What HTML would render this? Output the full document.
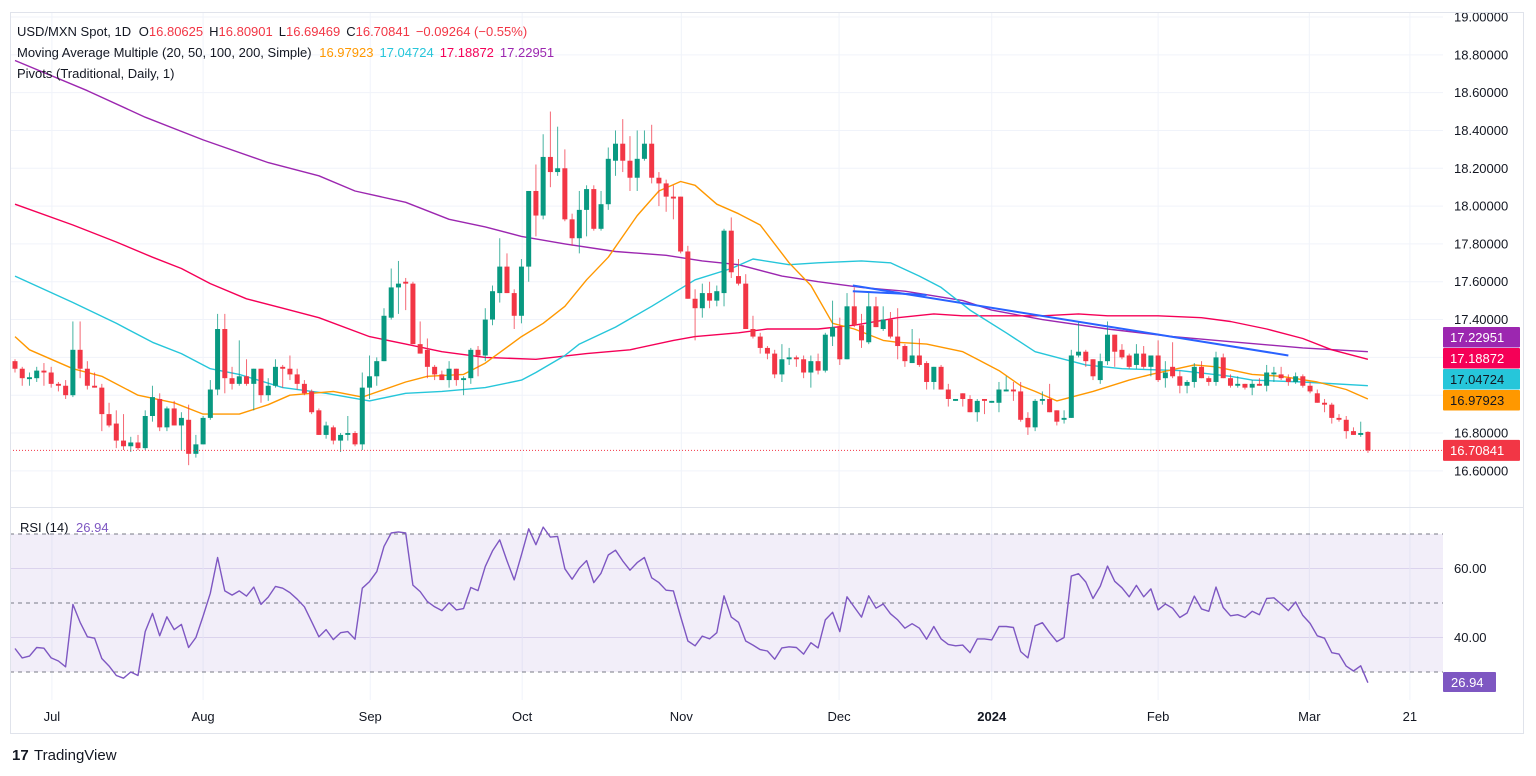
<!DOCTYPE html>
<html><head><meta charset="utf-8"><style>
html,body{margin:0;padding:0;background:#fff;}
svg{display:block;font-family:"Liberation Sans",sans-serif;}
</style></head><body>
<svg id="chart" width="1536" height="776" viewBox="0 0 1536 776" xmlns="http://www.w3.org/2000/svg">
<rect x="0" y="0" width="1536" height="776" fill="#fff"/>
<g id="grid"></g>
<rect x="10" y="534" width="1433" height="138" fill="#7e57c2" fill-opacity="0.1"/>
<g id="ma"></g>
<g id="candles"></g>
<g id="trend"></g>
<g id="rsi"></g>
<g id="axes"></g>
<rect x="10.5" y="12.5" width="1513" height="721" fill="none" stroke="#e0e3eb"/>
<line x1="10" y1="507.5" x2="1523" y2="507.5" stroke="#e0e3eb"/>
<text x="17" y="36" font-size="13" fill="#131722">USD/MXN Spot, 1D <tspan dx="4">O</tspan><tspan fill="#f23645">16.80625</tspan><tspan dx="6">H</tspan><tspan fill="#f23645">16.80901</tspan><tspan dx="6">L</tspan><tspan fill="#f23645">16.69469</tspan><tspan dx="6">C</tspan><tspan fill="#f23645">16.70841</tspan><tspan dx="6" fill="#f23645">−0.09264 (−0.55%)</tspan></text>
<text x="17" y="57" font-size="13" fill="#131722">Moving Average Multiple (20, 50, 100, 200, Simple) <tspan dx="4" fill="#ff9800">16.97923</tspan><tspan dx="6" fill="#26c6da">17.04724</tspan><tspan dx="6" fill="#f50057">17.18872</tspan><tspan dx="6" fill="#9c27b0">17.22951</tspan></text>
<text x="17" y="78" font-size="13" fill="#131722">Pivots (Traditional, Daily, 1)</text>
<text x="20" y="532" font-size="13" fill="#131722">RSI (14) <tspan dx="4" fill="#7e57c2">26.94</tspan></text>
<g>
<text x="12" y="760" font-size="15" font-weight="bold" fill="#131722">17</text>
<text x="34" y="760" font-size="15" fill="#131722">TradingView</text>
</g>
</svg>
<script>
const opens=[17.18,17.14,17.085,17.09,17.13,17.12,17.06,17.05,17.00,17.24,17.14,17.05,17.04,16.90,16.85,16.76,16.73,16.75,16.72,16.89,16.98,16.83,16.93,16.84,16.87,16.69,16.74,16.88,17.03,17.35,17.09,17.06,17.10,17.06,17.14,17.00,17.05,17.15,17.14,17.11,17.06,17.02,16.92,16.79,16.83,16.76,16.79,16.80,16.74,17.04,17.10,17.18,17.41,17.57,17.60,17.59,17.27,17.24,17.15,17.11,17.08,17.14,17.08,17.09,17.24,17.21,17.40,17.54,17.68,17.54,17.42,17.68,18.08,17.95,18.26,18.18,18.20,17.93,17.83,17.98,18.09,17.88,18.01,18.24,18.33,18.24,18.15,18.25,18.33,18.15,18.12,18.05,18.05,17.76,17.51,17.46,17.54,17.50,17.54,17.87,17.63,17.59,17.35,17.31,17.25,17.22,17.11,17.19,17.20,17.19,17.12,17.18,17.13,17.31,17.36,17.19,17.47,17.37,17.28,17.47,17.35,17.40,17.31,17.26,17.17,17.21,17.17,17.07,17.15,17.03,16.97,17.01,16.98,16.91,16.98,16.96,16.96,17.02,17.03,17.02,16.88,16.83,16.97,16.98,16.92,16.87,16.88,17.21,17.23,17.19,17.08,17.18,17.32,17.24,17.21,17.16,17.22,17.15,17.21,17.09,17.15,17.10,17.05,17.07,17.15,17.09,17.07,17.20,17.09,17.05,17.06,17.04,17.06,17.05,17.11,17.11,17.09,17.07,17.10,17.05,17.01,16.96,16.95,16.88,16.87,16.81,16.79,16.806];
const highs=[17.19,17.15,17.12,17.15,17.17,17.15,17.07,17.08,17.39,17.39,17.18,17.12,17.06,16.96,16.92,16.90,16.78,16.79,16.92,17.05,17.01,16.94,16.97,16.91,16.95,16.79,16.89,17.08,17.43,17.43,17.15,17.29,17.19,17.14,17.14,17.09,17.19,17.16,17.21,17.14,17.08,17.03,16.93,16.86,16.84,16.80,16.89,16.81,17.12,17.21,17.20,17.46,17.67,17.71,17.62,17.60,17.39,17.30,17.16,17.13,17.18,17.14,17.10,17.25,17.26,17.46,17.58,17.83,17.75,17.56,17.72,18.08,18.22,18.38,18.50,18.42,18.30,17.96,18.08,18.11,18.11,18.08,18.31,18.40,18.46,18.37,18.40,18.40,18.43,18.18,18.14,18.11,18.05,17.79,17.56,17.59,17.60,17.58,17.88,17.94,17.72,17.64,17.42,17.33,17.26,17.24,17.27,17.25,17.21,17.21,17.21,17.22,17.33,17.50,17.41,17.54,17.57,17.43,17.55,17.52,17.47,17.44,17.46,17.27,17.35,17.30,17.18,17.15,17.16,17.06,16.98,17.01,17.00,16.98,16.98,16.97,17.07,17.10,17.07,17.07,16.91,16.98,17.02,17.06,16.92,16.92,17.24,17.39,17.24,17.19,17.22,17.39,17.32,17.27,17.22,17.27,17.26,17.21,17.29,17.18,17.28,17.13,17.08,17.17,17.18,17.10,17.23,17.22,17.11,17.10,17.06,17.08,17.09,17.16,17.15,17.15,17.11,17.12,17.11,17.07,17.03,16.98,16.96,16.90,16.89,16.83,16.86,16.809];
const lows=[17.12,17.05,17.05,17.07,17.05,17.04,17.02,16.98,16.99,17.09,17.03,17.04,16.81,16.83,16.72,16.71,16.70,16.71,16.71,16.86,16.81,16.81,16.84,16.71,16.63,16.67,16.74,16.87,17.00,17.01,17.03,17.05,17.05,16.92,16.96,16.97,17.04,17.04,17.08,17.03,17.00,16.90,16.79,16.77,16.74,16.70,16.76,16.73,16.71,16.98,17.05,17.18,17.40,17.43,17.45,17.27,17.22,17.09,17.08,17.08,17.04,17.05,17.00,17.06,17.10,17.18,17.37,17.49,17.54,17.35,17.38,17.60,17.84,17.93,18.10,18.16,17.92,17.79,17.75,17.84,17.87,17.87,17.98,18.16,18.18,18.08,18.08,18.24,18.12,18.00,17.97,17.93,17.75,17.51,17.29,17.41,17.46,17.47,17.47,17.62,17.58,17.35,17.30,17.22,17.19,17.09,17.07,17.16,17.15,17.09,17.04,17.11,17.12,17.26,17.16,17.19,17.36,17.25,17.27,17.36,17.34,17.30,17.19,17.15,17.17,17.15,17.03,17.03,17.03,16.94,16.97,16.94,16.91,16.86,16.90,16.96,16.91,17.02,16.97,16.86,16.79,16.81,16.95,16.91,16.84,16.85,16.88,17.20,17.15,17.08,17.06,17.16,17.15,17.19,17.14,17.14,17.14,17.10,17.07,17.04,17.09,17.01,17.01,17.04,17.09,17.05,17.05,17.09,17.04,17.04,17.03,17.00,17.05,17.02,17.07,17.08,17.05,17.06,17.04,17.01,16.96,16.91,16.85,16.86,16.77,16.79,16.78,16.695];
const closes=[17.14,17.09,17.095,17.13,17.12,17.06,17.05,17.00,17.24,17.14,17.05,17.04,16.90,16.84,16.76,16.73,16.75,16.72,16.89,16.99,16.83,16.93,16.84,16.88,16.69,16.74,16.88,17.03,17.35,17.09,17.06,17.10,17.06,17.14,17.00,17.05,17.15,17.14,17.11,17.06,17.01,16.91,16.79,16.84,16.76,16.79,16.80,16.74,17.04,17.10,17.18,17.42,17.57,17.59,17.59,17.27,17.22,17.15,17.11,17.08,17.14,17.08,17.09,17.24,17.21,17.40,17.55,17.68,17.54,17.42,17.68,18.08,17.95,18.26,18.18,18.20,17.93,17.83,17.98,18.09,17.88,18.01,18.25,18.33,18.24,18.15,18.25,18.33,18.15,18.12,18.05,18.04,17.76,17.51,17.46,17.54,17.50,17.55,17.87,17.65,17.59,17.35,17.31,17.25,17.22,17.11,17.19,17.20,17.19,17.12,17.18,17.13,17.32,17.36,17.19,17.47,17.37,17.29,17.47,17.36,17.40,17.31,17.26,17.18,17.21,17.16,17.07,17.15,17.03,16.98,16.98,16.98,16.91,16.97,16.97,16.97,17.03,17.03,17.02,16.87,16.83,16.97,16.98,16.91,16.86,16.88,17.21,17.23,17.18,17.10,17.18,17.32,17.23,17.20,17.15,17.22,17.15,17.21,17.08,17.12,17.10,17.05,17.07,17.15,17.09,17.07,17.20,17.09,17.05,17.06,17.04,17.06,17.05,17.12,17.12,17.09,17.07,17.10,17.05,17.02,16.96,16.95,16.88,16.87,16.81,16.79,16.80,16.708];
const ma20Idx=[0,2,8,12,17,22,26,31,35,38,44,48,54,57,62,65,70,73,76,79,82,86,89,92,94,97,100,103,107,110,113,116,120,122,126,131,133,136,139,141,144,149,154,157,163,166,171,175,180,184,187];
const ma20Val=[17.31,17.24,17.14,17.10,17.00,16.96,16.90,16.90,16.95,17.00,17.02,16.99,17.07,17.10,17.11,17.17,17.31,17.38,17.47,17.61,17.73,17.95,18.08,18.13,18.11,18.01,17.96,17.90,17.70,17.58,17.38,17.35,17.29,17.28,17.27,17.23,17.19,17.13,17.05,17.02,16.97,17.02,17.08,17.11,17.16,17.15,17.11,17.10,17.07,17.03,16.98];
const ma50Idx=[0,8,14,19,23,27,31,37,43,49,54,59,65,70,72,76,78,83,88,94,99,102,107,111,117,121,125,128,132,137,141,145,148,153,161,168,171,178,187];
const ma50Val=[17.63,17.49,17.38,17.28,17.22,17.14,17.11,17.04,17.01,16.97,17.01,17.02,17.04,17.08,17.12,17.21,17.27,17.36,17.47,17.61,17.67,17.72,17.69,17.70,17.71,17.70,17.63,17.57,17.45,17.33,17.23,17.19,17.16,17.14,17.13,17.10,17.08,17.07,17.05];
const ma100Idx=[0,8,14,19,23,27,32,37,42,49,54,59,65,72,79,85,91,94,100,104,111,116,122,127,131,137,142,147,151,158,164,168,173,178,182,187];
const ma100Val=[18.01,17.90,17.81,17.73,17.67,17.59,17.51,17.46,17.41,17.31,17.27,17.23,17.20,17.19,17.22,17.24,17.29,17.31,17.33,17.35,17.35,17.37,17.41,17.43,17.42,17.42,17.42,17.43,17.42,17.42,17.41,17.39,17.35,17.30,17.24,17.19];
const ma200Idx=[0,10,18,26,35,42,47,54,60,65,70,76,83,90,95,100,106,111,117,123,131,135,142,151,160,169,178,187];
const ma200Val=[18.77,18.61,18.47,18.35,18.23,18.16,18.08,18.02,17.93,17.89,17.84,17.80,17.76,17.74,17.71,17.69,17.63,17.60,17.57,17.55,17.50,17.45,17.40,17.35,17.31,17.28,17.25,17.23];
const rsiVals=[36.8,34.1,34.6,37.1,36.9,34.1,33.2,31.5,49.6,44.4,40.2,39.8,33.9,31.7,29.0,28.2,30.0,29.0,41.7,47.0,40.5,46.0,42.3,43.8,37.1,40.0,46.2,52.8,63.2,53.5,52.3,53.5,52.0,54.6,49.6,51.7,54.8,54.3,53.0,51.1,48.9,44.6,40.2,42.3,39.4,41.4,41.7,39.5,54.3,56.2,59.1,66.4,70.3,70.6,70.3,55.2,53.3,50.4,48.9,47.8,50.1,48.0,48.4,54.5,53.6,60.6,65.1,68.3,62.2,56.7,64.0,71.5,66.9,72.0,69.1,69.3,59.9,56.9,60.1,62.3,55.9,58.6,
63.9,65.3,62.2,59.5,61.7,63.2,57.3,55.9,53.7,53.5,46.1,39.0,37.6,40.4,39.6,41.4,52.1,45.9,44.4,39.0,37.8,36.5,36.1,33.7,37.0,37.3,37.1,35.2,38.5,37.0,45.1,47.3,41.7,51.8,48.8,45.9,52.1,48.5,49.7,46.9,45.1,42.7,44.0,42.7,39.5,43.2,39.6,38.0,37.6,37.8,35.6,39.6,39.6,39.3,43.2,43.2,42.9,35.9,
34.1,43.4,44.3,41.4,38.8,40.0,57.8,58.5,56.1,51.3,54.9,60.7,56.3,54.4,51.8,55.1,51.8,54.1,48.0,49.7,48.5,45.8,47.1,52.0,48.3,47.6,54.6,48.7,46.3,46.6,45.8,47.6,46.6,51.3,51.5,49.7,47.8,50.3,46.4,44.1,40.5,39.8,35.6,35.2,31.7,30.3,31.8,26.9];
const priceTicks=[19.0,18.8,18.6,18.4,18.2,18.0,17.8,17.6,17.4,17.2,17.0,16.8,16.6];
const rsiTicks=[60,40];
const rsiLevels=[70,50,30];
const monthLabels=["Jul","Aug","Sep","Oct","Nov","Dec","2024","Feb","Mar","21"];
const monthIdx=[5.1,26,49.1,70.1,92.1,113.9,135,158,178.9,192.8];
const trendIdx=[115.8,176];
const trendVal=[17.58,17.21];
const trend2Idx=[115.8,126];
const trend2Val=[17.55,17.53];
const maLabels=["17.22951","17.18872","17.04724","16.97923"];
const lastPrice=16.70841;
const lastRsi=26.94;

const NS="http://www.w3.org/2000/svg";
const X0=15, STEP=7.235;
const xOf=i=>X0+i*STEP;
const yP=p=>17+(19-p)*189.1;
const yR=v=>534+(70-v)*3.45;
function mk(tag,attrs,parent){const e=document.createElementNS(NS,tag);for(const k in attrs)e.setAttribute(k,attrs[k]);parent.appendChild(e);return e;}
const grid=document.getElementById('grid'),axes=document.getElementById('axes');
priceTicks.forEach(p=>{
  const l=mk('line',{x1:10,x2:1443,y1:yP(p),y2:yP(p),stroke:'#f0f3fa'},grid);
  
  
  const t=mk('text',{x:1454,y:yP(p)+4.5,'font-size':13,fill:'#131722'},axes);
  
  
  t.textContent=p.toFixed(5);
});
rsiTicks.forEach(v=>{
  const l=mk('line',{x1:10,x2:1443,y1:yR(v),y2:yR(v),stroke:'#e6e1f2'},grid);
  
  
  const t=mk('text',{x:1454,y:yR(v)+4.5,'font-size':13,fill:'#131722'},axes);
  
  
  t.textContent=v.toFixed(2);
});
monthLabels.forEach((m,k)=>{
  const x=xOf(monthIdx[k]);
  const l=mk('line',{x1:x,x2:x,y1:13,y2:700,stroke:'#f0f3fa'},grid);
  
  
  const t=mk('text',{x:x,y:721,'font-size':13,fill:'#131722','text-anchor':'middle','font-weight':m==="2024"?'bold':'normal'},axes);
  
  
  t.textContent=m;
});
// MAs
const maG=document.getElementById('ma');
[[ma200Idx,ma200Val,'#9c27b0','ma200-line'],[ma100Idx,ma100Val,'#f50057','ma100-line'],[ma50Idx,ma50Val,'#26c6da','ma50-line'],[ma20Idx,ma20Val,'#ff9800','ma20-line']].forEach(s=>{
  const pts=s[0].map((i,k)=>xOf(i).toFixed(1)+','+yP(s[1][k]).toFixed(1)).join(' ');
  const pl=mk('polyline',{points:pts,fill:'none',stroke:s[2],'stroke-width':1.4,'stroke-linejoin':'round'},maG);
  
  
});
// candles
const cg=document.getElementById('candles');
opens.forEach((o,i)=>{
  const c=closes[i],up=c>=o,col=up?'#089981':'#f23645';
  const x=xOf(i);
  const g=mk('g',{},cg);
  
  
  mk('line',{x1:x,x2:x,y1:yP(highs[i]),y2:yP(lows[i]),stroke:col,'stroke-width':1,'stroke-opacity':0.75},g);
  const top=yP(Math.max(o,c)),bot=yP(Math.min(o,c));
  mk('rect',{x:x-2.5,y:top,width:5,height:Math.max(1,bot-top),fill:col},g);
});
// trendlines
const tg=document.getElementById('trend');
const t1=mk('line',{x1:xOf(trendIdx[0]),y1:yP(trendVal[0]),x2:xOf(trendIdx[1]),y2:yP(trendVal[1]),stroke:'#2962ff','stroke-width':2},tg);


const t2=mk('line',{x1:xOf(trend2Idx[0]),y1:yP(trend2Val[0]),x2:xOf(trend2Idx[1]),y2:yP(trend2Val[1]),stroke:'#2962ff','stroke-width':2},tg);


// last price line
const lp=mk('line',{x1:10,x2:1443,y1:yP(lastPrice),y2:yP(lastPrice),stroke:'#f23645','stroke-dasharray':'1 2'},tg);


// RSI
const rg=document.getElementById('rsi');
rsiLevels.forEach(v=>{
  const l=mk('line',{x1:10,x2:1443,y1:yR(v),y2:yR(v),stroke:'#787b86','stroke-dasharray':'4 4'},rg);
  
  
});
const rl=mk('polyline',{points:rsiVals.map((v,i)=>xOf(i).toFixed(1)+','+yR(v).toFixed(1)).join(' '),fill:'none',stroke:'#7e57c2','stroke-width':1.4,'stroke-linejoin':'round'},rg);


// value labels on axis
const labCols=['#9c27b0','#f50057','#26c6da','#ff9800'];
const labTxt=['#fff','#fff','#131722','#131722'];
maLabels.forEach((s,k)=>{
  const y=327+k*21;
  const r=mk('rect',{x:1443,y:y,width:77,height:20.5,fill:labCols[k],rx:1},axes);
  
  
  const t=mk('text',{x:1450,y:y+15,'font-size':13,fill:labTxt[k]},axes);
  
  
  t.textContent=s;
});
const pr=mk('rect',{x:1443,y:yP(lastPrice)-10.5,width:77,height:21,fill:'#f23645',rx:1},axes);


const pt=mk('text',{x:1450,y:yP(lastPrice)+4.5,'font-size':13,fill:'#fff'},axes);


pt.textContent=lastPrice.toFixed(5);
const rr=mk('rect',{x:1443,y:672,width:53,height:20,fill:'#7e57c2',rx:1},axes);


const rt=mk('text',{x:1451,y:687,'font-size':13,fill:'#fff'},axes);


rt.textContent=lastRsi.toFixed(2);
</script>
</body></html>
